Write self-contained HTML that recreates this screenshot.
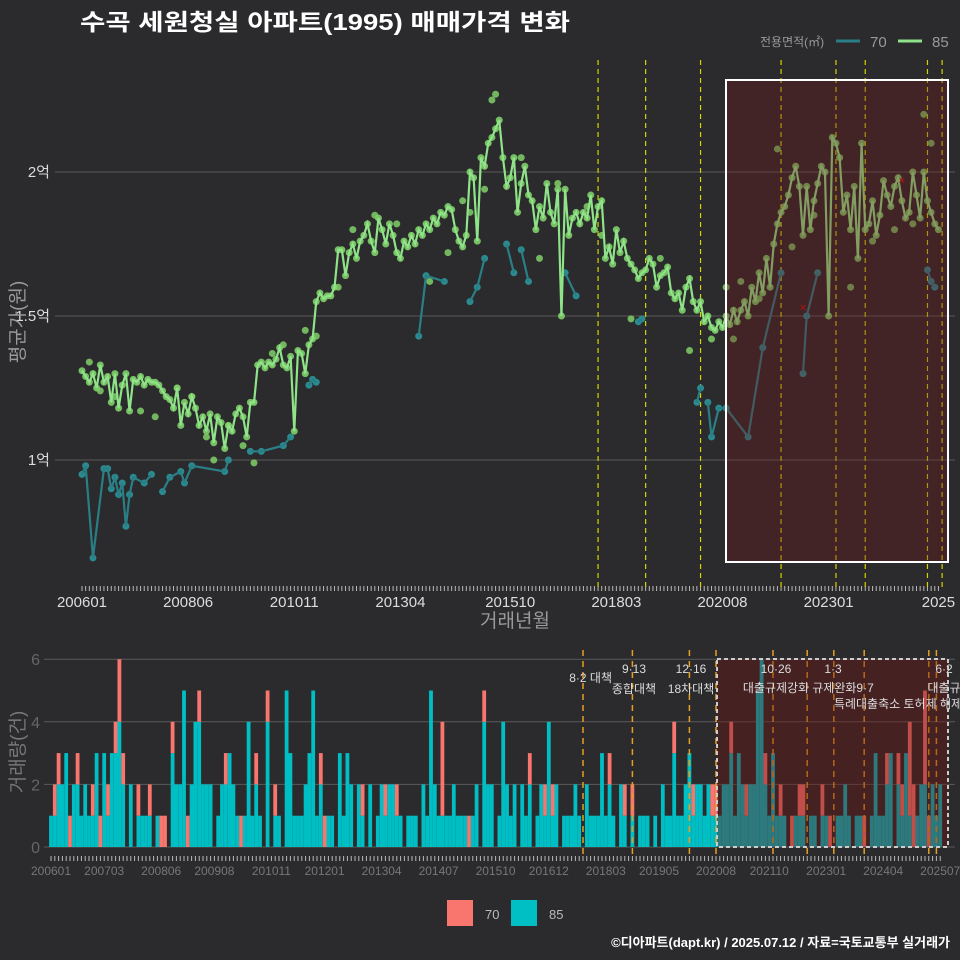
<!DOCTYPE html>
<html><head><meta charset="utf-8"><style>
body{margin:0;background:#2b2a2c;}
svg{display:block;font-family:"Liberation Sans","Noto Sans CJK KR",sans-serif;}
</style></head><body>
<svg id="c" width="960" height="960" viewBox="0 0 960 960">
<rect width="960" height="960" fill="#2b2a2c"/>
<text x="80" y="30" fill="#fff" font-size="23" font-weight="bold" textLength="490" lengthAdjust="spacingAndGlyphs">수곡 세원청실 아파트(1995) 매매가격 변화</text>
<g>
<text x="760" y="46" fill="#999" font-size="12">전용면적(㎡)</text>
<line x1="836" y1="41" x2="860" y2="41" stroke="#2a7f86" stroke-width="3"/>
<text x="870" y="47" fill="#999" font-size="15">70</text>
<line x1="898" y1="41" x2="922" y2="41" stroke="#8fe388" stroke-width="3"/>
<text x="932" y="47" fill="#999" font-size="15">85</text>
</g>
<g id="topg"></g>
<g id="botg"></g>
<g>
<rect x="447" y="900" width="26" height="26" fill="#f8766d"/>
<text x="485" y="919" fill="#bbb" font-size="13">70</text>
<rect x="511" y="900" width="26" height="26" fill="#00bfc4"/>
<text x="549" y="919" fill="#bbb" font-size="13">85</text>
</g>
<text x="950" y="947" text-anchor="end" fill="#fff" font-size="13" font-weight="bold">©디아파트(dapt.kr) / 2025.07.12 / 자료=국토교통부 실거래가</text>
</svg>
<script>
const price85 = [
1.31,1.29,1.27,1.30,1.25,1.33,1.27,1.29,1.20,1.30,1.18,1.26,
1.30,1.17,1.28,1.27,1.29,1.26,1.28,1.27,1.27,1.26,1.24,1.22,
1.21,1.18,1.25,1.12,1.20,1.16,1.22,1.18,1.12,1.15,1.10,1.16,
1.06,1.15,1.13,1.04,1.12,1.10,1.16,1.18,1.15,1.08,1.20,1.20,
1.33,1.34,1.32,1.34,1.33,1.35,1.39,1.33,1.32,1.36,1.10,1.38,
1.37,1.30,1.40,1.42,1.55,1.58,1.56,1.57,1.57,1.60,1.73,1.73,
1.64,1.72,1.75,1.70,1.76,1.78,1.82,1.76,1.72,1.84,1.80,1.75,
1.82,1.78,1.72,1.70,1.76,1.74,1.78,1.75,1.80,1.78,1.82,1.80,
1.84,1.82,1.86,1.85,1.88,1.87,1.80,1.76,1.74,1.78,2.00,1.98,
1.76,2.05,2.02,2.10,2.12,2.15,2.18,2.05,1.95,1.98,2.05,1.86,
1.96,2.02,1.92,1.90,1.80,1.88,1.84,1.96,1.86,1.82,1.94,1.50,
1.94,1.78,1.84,1.86,1.82,1.86,1.84,1.92,1.80,1.88,1.90,1.70,
1.74,1.68,1.80,1.72,1.76,1.70,1.68,1.66,1.63,1.65,1.66,1.70,
1.68,1.60,1.64,1.65,1.67,1.58,1.56,1.58,1.52,1.60,1.63,1.55,
1.52,1.55,1.48,1.50,1.46,1.45,1.48,1.46,1.50,1.47,1.52,1.48,
1.52,1.55,1.50,1.60,1.55,1.65,1.58,1.70,1.60,1.75,1.82,1.86,
1.88,1.92,1.98,2.02,1.95,1.78,1.95,1.80,1.90,1.96,2.02,2.00,
1.50,2.12,2.10,2.05,1.86,1.92,1.80,1.95,1.70,2.10,1.80,1.82,
1.90,1.78,1.85,1.97,1.92,1.88,1.95,1.98,1.90,1.84,1.86,2.00,
1.92,1.84,2.00,1.90,1.86,1.82,1.80];
const months70 = [0,1,3,6,7,8,9,10,11,12,13,14,17,19,null,22,24,27,28,30,39,40,null,46,49,55,57,null,62,63,64,null,92,94,99,null,106,108,110,null,116,118,null,120,122,null,132,135,null,152,153,null,168,169,null,171,172,174,176,182,186,191,null,197,198,201,null,231,232,233];
const price70 = [0.95,0.98,0.66,0.97,0.97,0.90,0.94,0.88,0.92,0.77,0.88,0.94,0.92,0.95,null,0.89,0.94,0.96,0.92,0.98,0.96,1.00,null,1.03,1.03,1.05,1.08,null,1.26,1.28,1.27,null,1.43,1.64,1.62,null,1.55,1.60,1.70,null,1.75,1.65,null,1.73,1.62,null,1.65,1.57,null,1.48,1.49,null,1.20,1.25,null,1.20,1.08,1.18,1.18,1.08,1.39,1.65,null,1.30,1.50,1.65,null,1.66,1.62,1.60];
const extraMonths85 = [2,5,9,16,20,26,30,34,36,40,44,47,52,55,61,64,70,74,80,86,95,100,104,106,110,112,113,120,125,130,138,142,150,158,166,172,176,178,180,185,190,194,200,210,216,222,227,230,232];
const extraPrice85 = [1.34,1.24,1.22,1.17,1.15,1.25,1.22,1.08,1.00,1.12,1.05,0.99,1.37,1.40,1.45,1.43,1.60,1.80,1.85,1.82,1.62,1.72,1.90,1.86,1.94,2.25,2.27,2.05,1.70,1.96,1.88,1.78,1.49,1.70,1.38,1.42,1.60,1.42,1.62,1.56,2.08,1.74,1.85,1.60,1.76,1.80,1.82,2.20,2.10];
const vol85 = [
1,1,2,2,3,0,2,2,1,2,1,1, 3,0,3,1,3,3,4,2,0,2,0,1, 1,1,1,0,1,0,0,0,3,2,2,5,
0,2,4,4,2,2,2,0,1,2,2,3, 2,1,0,1,4,1,2,1,0,4,0,1, 1,0,5,3,1,1,1,2,3,5,1,2,
0,1,1,0,3,1,3,2,0,2,1,0, 2,0,1,2,1,2,2,1,1,0,1,1, 1,0,2,1,5,2,1,1,1,1,2,1,
1,1,0,1,2,0,4,2,2,0,1,4, 2,1,2,0,2,1,2,0,1,2,1,4, 1,2,0,1,1,1,2,1,0,2,1,1,
1,3,1,2,1,0,2,1,0,1,0,1, 1,1,0,1,0,2,1,1,3,1,1,2, 3,1,2,2,1,2,1,1,1,2,2,3,
1,3,2,1,2,2,5,6,2,1,3,1, 1,1,0,0,1,1,1,0,1,1,0,1, 1,0,0,1,1,2,1,0,1,1,0,0,
1,3,1,1,2,3,0,2,1,3,1,0, 1,2,2,0,2,1,2];
const vol70 = [
0,1,1,0,0,1,0,1,0,0,0,1, 0,1,0,1,0,1,2,1,0,0,0,1, 0,0,1,0,0,1,1,0,1,0,0,0,
1,0,0,1,0,0,0,0,0,0,1,0, 0,0,1,0,0,0,1,0,0,1,0,1, 0,0,0,0,0,0,0,0,0,0,0,1,
1,0,0,0,0,0,0,0,0,0,1,0, 0,0,0,0,1,0,0,1,0,0,0,0, 0,0,0,0,0,0,0,3,0,0,0,0,
0,0,1,0,0,0,1,0,0,0,0,0, 0,0,0,0,0,0,1,0,0,0,1,0, 1,0,0,0,0,0,0,0,0,0,0,0,
0,0,0,1,0,0,0,1,0,1,0,0, 0,0,0,0,0,0,0,0,1,0,0,0, 0,1,0,0,0,0,1,1,0,0,0,1,
0,0,0,1,0,0,0,0,1,0,0,0, 1,0,0,1,0,1,1,0,0,0,0,1, 0,1,0,0,0,0,0,0,0,0,1,0,
0,0,0,0,1,0,0,1,1,0,3,2, 0,0,3,1,0,0,0];
const topTickMonths = [0,29,58,87,117,146,175,204,234];
const topTickLabels = ["200601","200806","201011","201304","201510","201803","202008","202301","2025"];
const botTickMonths = [0,14,29,43,58,72,87,102,117,131,146,160,175,189,204,219,234];
const botTickLabels = ["200601","200703","200806","200908","201011","201201","201304","201407","201510","201612","201803","201905","202008","202110","202301","202404","202507"];
const yTickValues = [1,1.5,2];
const yTickLabels = ["1억","1.5억","2억"];
const volTicks = [0,2,4,6];
const topEventMonths = [141,154,169,191,206,214,231,235];
const botEventMonths = [140,153,168,175,190,199,206,214,231,233];

const NS="http://www.w3.org/2000/svg";
function el(tag,attrs,parent,text){const e=document.createElementNS(NS,tag);for(const k in attrs)e.setAttribute(k,attrs[k]);if(text!==undefined)e.textContent=text;parent.appendChild(e);return e;}
const topG=document.getElementById('topg'), botG=document.getElementById('botg');
const xT=m=>82+m*3.66, yT=v=>172+(2-v)*288;
const xB=m=>51+m*3.8, yB=v=>847-v*31.3;

yTickValues.forEach((v,i)=>{
  const g=el('line',{x1:55,x2:955,y1:yT(v),y2:yT(v),stroke:'#5a5a5a','stroke-width':1},topG);
  
  
  const t=el('text',{x:50,y:yT(v)+5,fill:'#ddd','font-size':15,'text-anchor':'end'},topG,yTickLabels[i]);
  
  
});
for(let m=0;m<=234;m++){el('line',{x1:xT(m),x2:xT(m),y1:586,y2:591,stroke:'#bbb','stroke-width':1},topG);}
topTickMonths.forEach((m,i)=>{
  const t=el('text',{x:xT(m),y:607,fill:'#ddd','font-size':15,'text-anchor':'middle'},topG,topTickLabels[i]);
  
  
});
let tt=el('text',{x:515,y:627,fill:'#999','font-size':19,'text-anchor':'middle'},topG,'거래년월');


tt=el('text',{x:0,y:0,fill:'#999','font-size':19,'text-anchor':'middle',transform:'translate(24,322) rotate(-90)'},topG,'평균가(원)');



topEventMonths.forEach(m=>{
  const l=el('line',{x1:xT(m),x2:xT(m),y1:60,y2:588,stroke:'#d4d400','stroke-width':1.2,'stroke-dasharray':'5,4'},topG);
  
  
});

extraMonths85.forEach((m,i)=>{
  const c=el('circle',{cx:xT(m),cy:yT(extraPrice85[i]),r:3.5,fill:'#7fcf6a','fill-opacity':0.85},topG);
  
  
});
let d='',pen=false;
months70.forEach((m,i)=>{
  if(m===null){pen=false;return;}
  d+=(pen?'L':'M')+xT(m)+','+yT(price70[i]);pen=true;
  const c=el('circle',{cx:xT(m),cy:yT(price70[i]),r:3.5,fill:'#2a8a8f'},topG);
  
  
});
let p=el('path',{d:d,fill:'none',stroke:'#2a7f86','stroke-width':2.2},topG);


d='';
price85.forEach((v,m)=>{
  d+=(m?'L':'M')+xT(m)+','+yT(v);
  const c=el('circle',{cx:xT(m),cy:yT(v),r:3.5,fill:'#7fcf6a','fill-opacity':0.9},topG);
  
  
});
p=el('path',{d:d,fill:'none',stroke:'#8fe388','stroke-width':2.2},topG);


[[197,1.53],[224,1.97]].forEach(([m,v])=>{
  const g=el('text',{x:xT(m),y:yT(v)+4,fill:'#e01010','font-size':12,'text-anchor':'middle'},topG,'×');
  
  
});
let r=el('rect',{x:726,y:80,width:222,height:482,fill:'rgba(110,25,30,0.35)',stroke:'#fff','stroke-width':2},topG);



volTicks.forEach(v=>{
  el('line',{x1:44,x2:955,y1:yB(v),y2:yB(v),stroke:'#5a5a5a','stroke-width':1},botG);
  const t=el('text',{x:40,y:yB(v)+6,fill:'#666','font-size':16,'text-anchor':'end'},botG,String(v));
  
  
});
tt=el('text',{x:0,y:0,fill:'#777','font-size':19,'text-anchor':'middle',transform:'translate(24,752) rotate(-90)'},botG,'거래량(건)');


vol85.forEach((v,m)=>{
  if(v>0){const b=el('rect',{x:xB(m)-1.9,y:yB(v),width:3.8,height:v*31.3,fill:'#00bfc4'},botG);
  
  }
  const w=vol70[m];
  if(w>0){const b=el('rect',{x:xB(m)-1.9,y:yB(v+w),width:3.8,height:w*31.3,fill:'#f8766d'},botG);
  
  }
});
for(let m=0;m<=234;m++){el('line',{x1:xB(m),x2:xB(m),y1:856,y2:861,stroke:'#bbb','stroke-width':1},botG);}
botTickMonths.forEach((m,i)=>{
  const t=el('text',{x:xB(m),y:875,fill:'#777','font-size':12,'text-anchor':'middle'},botG,botTickLabels[i]);
  
  
});
botEventMonths.forEach(m=>{
  const l=el('line',{x1:xB(m),x2:xB(m),y1:650,y2:855,stroke:'#e6a020','stroke-width':1.5,'stroke-dasharray':'6,5'},botG);
  
  
});
r=el('rect',{x:717,y:659,width:231,height:188,fill:'rgba(110,20,20,0.4)',stroke:'#ccc','stroke-width':2,'stroke-dasharray':'4,3'},botG);


const ann=[[612,682,'8·2 대책','end'],[634,673,'9·13','middle'],[634,693,'종합대책','middle'],[691,673,'12·16','middle'],[691,693,'18차대책','middle'],[776,673,'10·26','middle'],[776,692,'대출규제강화','middle'],[833,673,'1·3','middle'],[843,692,'규제완화9·7','middle'],[898,708,'특례대출축소 토허제 해제','middle'],[944,673,'6·2','middle'],[944,692,'대출규','middle']];
ann.forEach(a=>{
  const t=el('text',{x:a[0],y:a[1],fill:'#ddd','font-size':12,'text-anchor':a[3]},botG,a[2]);
  
  
});
</script>
</body></html>
